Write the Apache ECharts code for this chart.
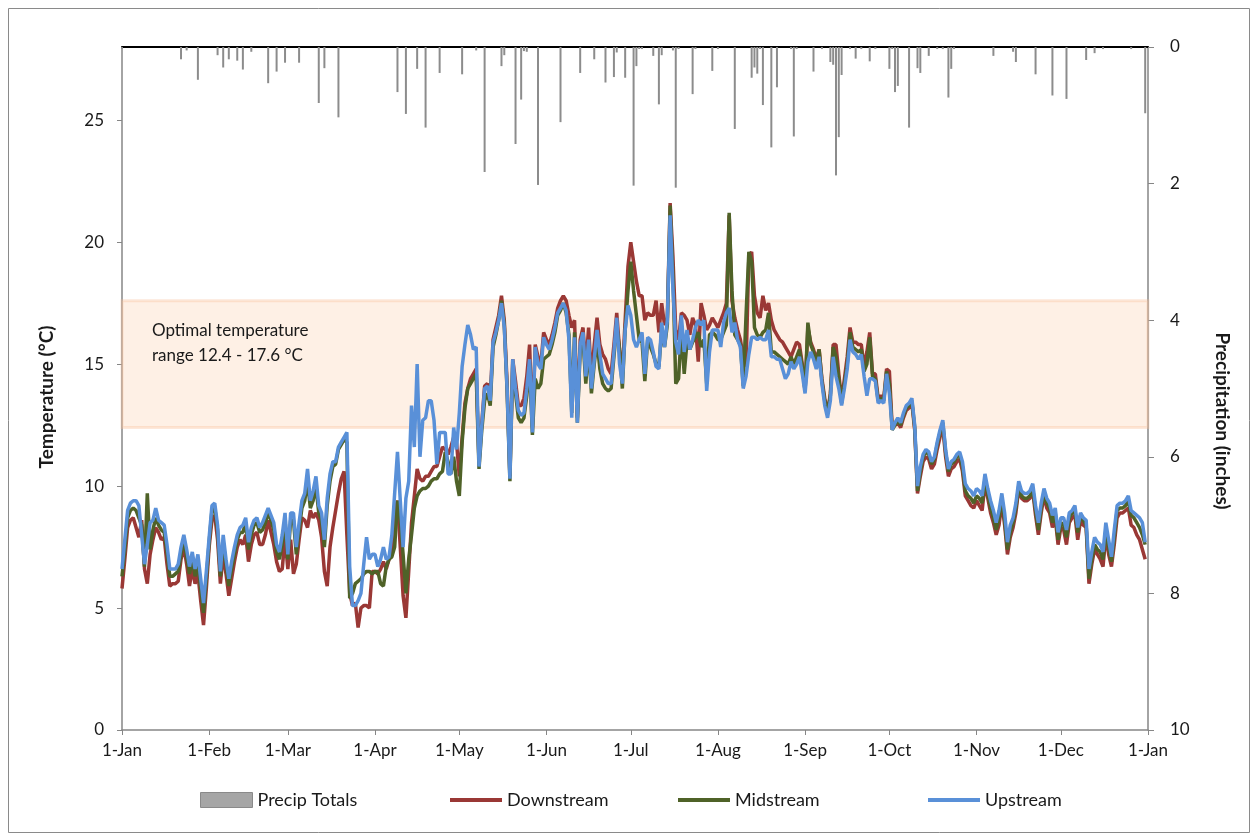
<!DOCTYPE html>
<html>
<head>
<meta charset="utf-8">
<title>Stream temperature and precipitation</title>
<script src="https://cdn.jsdelivr.net/npm/echarts@6.0.0/dist/echarts.min.js"></script>
<style>
    html, body { margin: 0; padding: 0; background: #fff; }
    #main { width: 1254px; height: 836px; }
</style>
</head>
<body>
<div id="main"></div>
<script>
// month start positions on the day axis and their labels
const monthStartDays = [0, 31, 59, 90, 120, 151, 181, 212, 243, 273, 304, 334, 365]
const monthLabels = ['1-Jan', '1-Feb', '1-Mar', '1-Apr', '1-May', '1-Jun', '1-Jul', '1-Aug', '1-Sep', '1-Oct', '1-Nov', '1-Dec', '1-Jan']

// daily mean temperature, deg C (one value per day)
const downstream = [
    5.8, 7.0, 8.3, 8.6, 8.7, 8.3, 7.9, 8.6, 6.6, 6.0,
    7.2, 7.8, 8.3, 8.1, 7.8, 7.9, 6.8, 5.9, 6.0, 6.0,
    6.1, 7.0, 7.5, 6.8, 5.9, 6.6, 6.0, 6.4, 5.3, 4.3,
    5.8, 7.5, 8.6, 8.8, 7.8, 6.0, 7.2, 6.4, 5.5, 6.2,
    6.9, 7.5, 7.8, 7.6, 8.0, 6.9, 7.6, 8.0, 8.1, 7.6,
    7.6, 8.0, 8.6, 8.1, 7.6, 6.9, 6.5, 6.6, 7.9, 6.6,
    7.8, 6.4, 6.8, 7.8, 8.7, 8.6, 8.3, 9.0, 8.7, 8.9,
    8.6, 7.9, 6.5, 5.9, 7.5, 8.3, 9.0, 9.7, 10.3, 10.6,
    8.0, 5.6, 5.1, 5.2, 4.2, 5.0, 5.1, 5.1, 5.0, 6.5,
    6.5, 6.4, 6.6, 6.9, 6.6, 7.0, 7.4, 9.0, 9.4, 7.5,
    5.5, 4.6, 6.5, 8.5, 9.6, 10.7, 10.3, 10.2, 10.4, 10.4,
    10.6, 10.8, 10.8, 11.2, 11.6, 11.5, 11.3, 11.6, 12.0, 11.8,
    10.4, 12.0, 13.4, 14.0, 14.4, 14.6, 14.8, 11.0, 12.6, 14.1,
    14.2, 13.6, 16.0, 16.5, 17.0, 17.8, 16.8, 14.2, 10.4, 15.2,
    14.3, 13.3, 13.3, 13.6, 14.5, 15.8, 12.4, 15.8, 15.3, 15.0,
    16.3, 16.0, 15.8, 16.2, 16.7, 17.3, 17.6, 17.8, 17.6, 17.0,
    16.5, 16.8, 12.8, 16.0, 16.5, 14.9, 16.5, 14.4, 15.8, 16.9,
    15.8, 15.4, 15.2, 14.8, 14.6, 15.8, 17.1, 15.6, 14.6, 16.8,
    19.0, 20.0, 19.2, 18.4, 17.8, 17.8, 16.8, 17.1, 17.0, 17.0,
    17.6, 16.3, 17.5, 16.6, 16.9, 21.6, 19.4, 16.4, 16.0, 17.1,
    17.0, 16.8, 16.2, 16.9, 16.6, 15.1, 17.5, 17.0, 16.4, 16.6,
    16.9, 16.7, 16.5, 16.8, 17.1, 17.5, 21.1, 17.6, 16.9, 16.4,
    16.0, 15.3, 14.9, 19.4, 19.6, 17.8, 17.1, 16.9, 17.8, 17.2,
    17.5, 16.8, 16.4, 16.2, 16.0, 15.9, 15.7, 15.5, 15.3, 15.6,
    15.9, 15.8, 15.0, 13.9, 16.5, 15.9, 15.6, 15.2, 15.6, 14.4,
    13.6, 13.0, 13.8, 15.8, 15.8, 14.6, 13.5, 14.4, 15.3, 16.5,
    15.9, 15.9, 15.8, 15.8, 14.9, 15.5, 16.3, 14.6, 14.6, 13.6,
    13.7, 13.6, 14.8, 14.7, 12.4, 12.5, 12.6, 12.4, 12.8, 13.1,
    13.2, 13.4, 12.3, 9.7, 10.4, 11.0, 11.2, 11.1, 10.7, 10.9,
    11.5, 12.0, 12.4, 11.2, 10.4, 10.7, 10.8, 11.0, 11.1, 10.6,
    9.6, 9.4, 9.2, 9.1, 9.4, 9.2, 9.0, 10.1, 9.5, 8.9,
    8.5, 8.0, 8.4, 9.3, 8.4, 7.2, 7.9, 8.3, 8.9, 9.9,
    9.5, 9.4, 9.4, 9.5, 9.8, 8.8, 8.0, 8.9, 9.6, 9.1,
    8.9, 8.3, 8.7, 7.6, 8.3, 8.2, 7.6, 8.5, 8.7, 8.8,
    7.8, 8.6, 8.4, 8.3, 6.0, 6.8, 7.4, 7.2, 7.0, 6.7,
    8.0, 7.2, 6.7, 7.6, 8.7, 8.9, 8.9, 9.0, 9.1, 8.4,
    8.3, 8.0, 7.8, 7.4, 7.0,
]

const midstream = [
    6.3, 7.4, 8.7, 9.0, 9.1, 9.0, 8.7, 8.4, 6.7, 9.7,
    7.4, 8.2, 8.7, 8.4, 8.2, 8.1, 7.3, 6.3, 6.3, 6.4,
    6.5, 7.2, 7.8, 7.1, 6.4, 7.0, 6.3, 6.9, 5.8, 4.8,
    6.2, 7.7, 9.0, 9.1, 8.2, 6.3, 7.7, 6.8, 5.9, 6.6,
    7.2, 7.8, 8.1, 8.1, 8.5, 7.4, 8.0, 8.4, 8.5, 8.1,
    8.2, 8.5, 8.9, 8.6, 8.2, 7.3, 7.0, 7.6, 8.6, 7.0,
    8.6, 8.6, 7.2, 8.2, 9.1, 9.4, 10.2, 9.1, 9.4, 10.0,
    8.9, 8.6, 7.5, 9.2, 10.2, 10.8, 10.9, 11.5, 11.7, 11.9,
    11.8, 5.4, 5.6, 6.0, 6.1, 6.2, 6.4, 6.5, 6.5, 6.4,
    6.5, 6.5, 6.0, 5.9, 6.7, 7.0, 7.1, 7.5, 9.4, 8.6,
    7.2, 5.6, 7.0, 8.0, 9.1, 9.6, 9.8, 9.9, 9.9, 10.0,
    10.2, 10.3, 10.3, 10.5, 10.6, 11.4, 11.0, 10.5, 11.2, 10.2,
    9.6, 11.8, 13.2, 14.0, 14.2, 14.4, 14.6, 10.7, 12.3, 13.5,
    13.8, 13.3, 15.7, 16.2, 16.8, 17.6, 16.6, 13.9, 10.2, 15.0,
    13.8, 12.8, 12.6, 12.8, 13.7, 15.0, 12.1, 14.4, 14.0, 14.2,
    15.2, 15.3, 15.4, 15.8, 16.3, 17.0, 17.2, 17.5, 17.1, 16.2,
    13.0, 16.3, 12.6, 15.6, 16.0, 14.2, 15.8, 13.8, 15.0, 16.0,
    14.8, 14.2, 14.0, 13.9, 14.0, 15.3, 16.6, 15.6, 14.0, 16.4,
    18.0, 19.2, 18.0, 17.0, 16.0, 15.9, 14.3, 16.0, 15.7, 15.4,
    15.0, 14.9, 16.4, 15.7, 16.6, 21.5, 18.6, 14.2, 14.4, 16.4,
    14.6, 15.9, 15.6, 15.9, 16.1, 16.3, 15.7, 16.0, 14.2, 16.2,
    16.3, 16.2, 16.0, 16.0, 16.3, 16.6, 21.2, 18.0, 16.2, 16.0,
    15.8, 14.1, 17.0, 19.6, 19.2, 16.5, 16.2, 16.1, 16.3, 16.4,
    17.1, 15.5, 15.5, 15.4, 15.3, 15.2, 15.1, 15.0, 15.3, 15.0,
    15.3, 15.6, 14.9, 13.9, 16.7, 15.8, 15.5, 15.0, 15.6, 14.3,
    13.5, 13.0, 13.7, 15.7, 15.3, 14.4, 13.4, 14.2, 15.0, 16.3,
    15.7, 15.6, 15.5, 15.6, 14.7, 15.0, 16.1, 14.5, 14.4, 13.5,
    13.6, 13.5, 14.7, 14.2, 12.3, 12.5, 12.7, 12.5, 12.9, 13.2,
    13.3, 13.5, 12.4, 9.8, 10.6, 11.2, 11.4, 11.3, 10.9, 11.1,
    11.7, 12.2, 12.6, 11.4, 10.6, 10.9, 11.0, 11.2, 11.3, 10.8,
    9.8, 9.6, 9.5, 9.3, 9.6, 9.5, 9.3, 10.3, 9.7, 9.1,
    8.7, 8.2, 8.7, 9.5, 8.6, 7.4, 8.1, 8.5, 9.1, 10.0,
    9.6, 9.5, 9.5, 9.6, 9.9, 9.0, 8.2, 9.1, 9.7, 9.3,
    9.1, 8.5, 8.9, 7.8, 8.5, 8.4, 7.9, 8.7, 8.9, 9.0,
    8.1, 8.8, 8.6, 8.4, 6.2, 7.0, 7.6, 7.4, 7.3, 7.0,
    8.2, 7.5, 6.9, 7.9, 9.0, 9.1, 9.1, 9.2, 9.4, 8.8,
    8.7, 8.5, 8.3, 8.0, 7.6,
]

const upstream = [
    6.6, 7.8, 9.0, 9.3, 9.4, 9.4, 9.2, 8.0, 6.8, 7.6,
    8.5, 8.6, 9.1, 8.6, 8.5, 8.4, 7.6, 6.6, 6.6, 6.6,
    6.8, 7.5, 8.0, 7.4, 6.7, 7.3, 6.6, 7.2, 6.2, 5.2,
    6.5, 7.9, 9.2, 9.3, 8.4, 6.5, 8.0, 7.0, 6.2, 6.9,
    7.5, 8.0, 8.3, 8.4, 8.7, 7.7, 8.3, 8.6, 8.7, 8.3,
    8.5, 8.8, 9.1, 8.8, 8.5, 7.6, 7.3, 8.0, 8.9, 7.2,
    8.9, 8.9, 7.5, 8.5, 9.4, 9.7, 10.7, 9.4, 9.8, 10.4,
    9.2, 8.9, 7.8, 9.5, 10.5, 11.0, 11.0, 11.6, 11.8, 12.0,
    12.2, 6.7, 5.1, 5.1, 5.3, 5.6, 6.8, 7.9, 7.0, 7.2,
    7.2, 6.7, 7.0, 7.5, 7.0, 7.1, 8.0, 9.7, 11.4, 9.4,
    7.5, 9.5, 10.2, 13.3, 11.6, 15.0, 11.2, 12.7, 12.8, 13.5,
    13.5, 12.7, 10.9, 12.2, 12.2, 12.2, 10.5, 10.5, 12.4, 11.5,
    13.0, 14.9, 15.8, 16.6, 16.2, 15.6, 15.7, 10.8, 12.5, 14.0,
    14.1, 13.5, 15.9, 16.3, 16.8, 17.5, 16.5, 14.0, 10.3, 15.2,
    14.0, 13.1, 12.9, 13.0, 14.0, 15.2, 12.2, 15.7, 15.0, 14.8,
    16.1, 15.8, 15.6, 16.0, 16.5, 17.1, 17.3, 17.5, 17.2, 16.0,
    12.8, 16.1, 12.6, 15.8, 16.3, 14.5, 16.0, 14.0, 15.2, 16.4,
    15.4, 14.6, 14.4, 14.2, 14.2, 15.5, 16.9, 15.0, 14.2, 16.4,
    17.4, 17.0, 16.0, 15.7, 16.0, 16.3, 14.6, 16.1, 16.0, 15.5,
    14.9, 14.8, 16.7, 15.7, 16.8, 21.1, 18.1, 15.9, 15.4, 17.0,
    15.5, 16.4, 15.6, 16.0, 16.5, 16.8, 16.6, 16.8, 13.9, 15.5,
    16.4, 16.4, 16.4, 15.7, 16.7, 17.1, 17.3, 16.3, 16.7, 16.0,
    15.7, 14.0, 14.5, 15.4, 16.1, 16.1, 16.0, 16.1, 16.0, 16.0,
    16.4, 15.3, 15.3, 15.2, 15.2, 14.8, 14.4, 14.6, 15.1, 14.8,
    15.0, 15.3, 14.6, 13.8, 15.1, 15.5, 15.2, 14.8, 15.3, 14.2,
    13.3, 12.8, 13.5, 15.3, 14.5, 14.0, 13.3, 14.0, 14.8, 16.0,
    15.5, 15.4, 15.2, 15.4, 14.5, 13.7, 14.4, 14.4, 14.3, 13.4,
    13.5, 13.4, 14.6, 13.8, 12.3, 12.6, 12.8, 12.6, 13.0, 13.3,
    13.4, 13.6, 12.5, 10.0, 10.8, 11.3, 11.5, 11.4, 11.0, 11.2,
    11.8, 12.3, 12.7, 11.5, 10.7, 11.0, 11.1, 11.3, 11.4, 11.0,
    10.1, 9.9, 9.8, 9.6, 9.9, 9.8, 9.6, 10.5, 9.9, 9.4,
    9.0, 8.5, 9.0, 9.7, 8.9, 7.7, 8.4, 8.7, 9.3, 10.2,
    9.8, 9.7, 9.7, 9.8, 10.1, 9.2, 8.5, 9.3, 9.9, 9.5,
    9.3, 8.8, 9.1, 8.1, 8.7, 8.7, 8.2, 8.9, 9.0, 9.2,
    8.3, 8.9, 8.7, 8.6, 6.6, 7.3, 7.9, 7.7, 7.6, 7.3,
    8.5, 7.8, 7.1, 8.2, 9.2, 9.3, 9.3, 9.4, 9.6, 9.0,
    8.9, 8.8, 8.7, 8.5, 7.7,
]

// daily precipitation totals (inches), only the days with rain
const precipDays = [
    0, 21, 23, 27, 34, 36, 38, 41, 43, 46,
    52, 55, 58, 63, 70, 72, 77, 98, 101, 105,
    108, 113, 121, 126, 129, 135, 136, 140, 142, 143,
    144, 148, 156, 163, 168, 172, 175, 176, 179, 182,
    183, 184, 185, 189, 191, 192, 196, 197, 198, 203,
    204, 210, 212, 218, 224, 225, 226, 227, 228, 231,
    233, 238, 239, 240, 246, 249, 252, 253, 254, 255,
    256, 259, 261, 263, 266, 268, 273, 274, 275, 276,
    280, 283, 284, 287, 290, 292, 294, 295, 296, 310,
    317, 318, 325, 331, 336, 343, 346, 349, 359, 364,
]
const precipTotals = [
    0.03, 0.18, 0.05, 0.48, 0.12, 0.30, 0.18, 0.20, 0.33, 0.07,
    0.53, 0.36, 0.23, 0.23, 0.82, 0.31, 1.03, 0.66, 0.98, 0.32,
    1.18, 0.38, 0.40, 0.05, 1.83, 0.28, 0.12, 1.42, 0.77, 0.06,
    0.07, 2.02, 1.10, 0.38, 0.18, 0.52, 0.44, 0.08, 0.45, 2.03,
    0.28, 0.03, 0.03, 0.13, 0.84, 0.12, 0.05, 2.06, 0.03, 0.69,
    0.03, 0.35, 0.03, 1.20, 0.45, 0.30, 0.39, 0.03, 0.85, 1.47,
    0.59, 0.03, 1.31, 0.03, 0.36, 0.03, 0.22, 0.26, 1.88, 1.32,
    0.41, 0.03, 0.17, 0.03, 0.21, 0.03, 0.32, 0.03, 0.66, 0.57,
    1.18, 0.31, 0.38, 0.13, 0.03, 0.03, 0.74, 0.32, 0.03, 0.13,
    0.07, 0.22, 0.40, 0.71, 0.76, 0.19, 0.09, 0.03, 0.03, 0.97,
]

// optimal temperature band
const optimalLow = 12.4
const optimalHigh = 17.6

const FONT = 'Lato'
const TEXT = '#1a1a1a'
const AXIS_GREY = '#868686'

function renderChart() {
    var chartDom = document.getElementById('main')
    var myChart = echarts.init(chartDom, null, { renderer: 'canvas' })

    // 366 slots: 1-Jan .. 31-Dec plus next 1-Jan at the right end
    let dayIndex = []
    for (let i = 0; i <= 365; i++) dayIndex.push(String(i))
    const isMonthStart = (idx) => monthStartDays.indexOf(idx) !== -1

    let precipData = precipDays.map((d, i) => [String(d), precipTotals[i]])

    const legendBase = {
        top: 791,
        padding: 0,
        itemWidth: 52,
        itemGap: 0,
        textStyle: { fontFamily: FONT, fontSize: 18, color: TEXT },
        selectedMode: false,
    }

    var option = {
        animation: false,
        backgroundColor: '#fff',
        grid: { left: 122, right: 106, top: 47, bottom: 106, containLabel: false },
        legend: [
            Object.assign({}, legendBase, {
                left: 200,
                itemHeight: 15,
                data: [{ name: 'Precip Totals', icon: 'rect', itemStyle: { color: '#a6a6a6', borderColor: '#8a8a8a', borderWidth: 1 } }],
            }),
            Object.assign({}, legendBase, {
                left: 450,
                itemHeight: 4,
                data: [{ name: 'Downstream', icon: 'rect' }],
            }),
            Object.assign({}, legendBase, {
                left: 678,
                itemHeight: 4,
                data: [{ name: 'Midstream', icon: 'rect' }],
            }),
            Object.assign({}, legendBase, {
                left: 928,
                itemHeight: 4,
                data: [{ name: 'Upstream', icon: 'rect' }],
            }),
        ],
        xAxis: [
            {
                type: 'category',
                data: dayIndex,
                boundaryGap: false,
                axisLine: { lineStyle: { color: AXIS_GREY, width: 1.5 } },
                axisTick: { show: true, interval: isMonthStart, length: 5, lineStyle: { color: AXIS_GREY } },
                axisLabel: {
                    interval: isMonthStart,
                    formatter: (val, idx) => monthLabels[monthStartDays.indexOf(Number(val))] || '',
                    fontFamily: FONT,
                    fontSize: 17,
                    color: TEXT,
                    margin: 12,
                },
                splitLine: { show: false },
            },
            {
                // black zero line of the hanging precipitation bars
                type: 'category',
                data: dayIndex,
                boundaryGap: false,
                position: 'top',
                axisLine: { lineStyle: { color: '#000', width: 2 } },
                axisTick: { show: false },
                axisLabel: { show: false },
                splitLine: { show: false },
            },
        ],
        yAxis: [
            {
                type: 'value',
                min: 0,
                max: 28,
                interval: 5,
                axisLine: { show: true, lineStyle: { color: AXIS_GREY, width: 1.5 } },
                axisTick: { show: true, length: 5, lineStyle: { color: AXIS_GREY } },
                axisLabel: { showMaxLabel: false, fontFamily: FONT, fontSize: 17, color: TEXT, margin: 18 },
                splitLine: { show: false },
            },
            {
                type: 'value',
                position: 'right',
                inverse: true,
                min: 0,
                max: 10,
                interval: 2,
                axisLine: { show: true, lineStyle: { color: AXIS_GREY, width: 1.5 } },
                axisTick: { show: true, length: 6, lineStyle: { color: AXIS_GREY } },
                axisLabel: { fontFamily: FONT, fontSize: 17, color: TEXT, margin: 22 },
                splitLine: { show: false },
            },
        ],
        series: [
            {
                name: 'Precip Totals',
                type: 'bar',
                xAxisIndex: 0,
                yAxisIndex: 1,
                barWidth: 2,
                itemStyle: { color: '#8c8c8c' },
                data: precipData,
                z: 1,
            },
            {
                name: 'Downstream',
                type: 'line',
                symbol: 'none',
                lineStyle: { width: 3.5, color: '#9a3835' },
                itemStyle: { color: '#9a3835' },
                data: downstream,
                z: 2,
            },
            {
                name: 'Midstream',
                type: 'line',
                symbol: 'none',
                lineStyle: { width: 3.5, color: '#4f6228' },
                itemStyle: { color: '#4f6228' },
                data: midstream,
                z: 3,
            },
            {
                name: 'Upstream',
                type: 'line',
                symbol: 'none',
                lineStyle: { width: 3.5, color: '#5990d8' },
                itemStyle: { color: '#5990d8' },
                data: upstream,
                z: 4,
            },
            {
                // translucent optimal band laid over the lines
                name: 'band',
                type: 'line',
                data: [],
                z: 10,
                silent: true,
                markArea: {
                    silent: true,
                    itemStyle: {
                        color: 'rgba(250, 200, 160, 0.28)',
                        borderColor: 'rgba(248, 190, 150, 0.35)',
                        borderWidth: 3,
                    },
                    data: [[{ yAxis: optimalLow }, { yAxis: optimalHigh }]],
                },
            },
        ],
        graphic: [
            {
                type: 'rect',
                silent: true,
                shape: { x: 8.5, y: 8.5, width: 1241, height: 824 },
                style: { fill: 'none', stroke: '#8a8a8a', lineWidth: 1 },
            },
            {
                type: 'text',
                left: 152,
                top: 318,
                z: 20,
                style: {
                    text: 'Optimal temperature\nrange 12.4 - 17.6 °C',
                    fontFamily: FONT,
                    fontSize: 17,
                    lineHeight: 25,
                    fill: TEXT,
                },
            },
            {
                type: 'text',
                x: 47,
                y: 397,
                rotation: Math.PI / 2,
                style: {
                    text: 'Temperature (°C)',
                    fontFamily: FONT,
                    fontSize: 19,
                    fontWeight: 'bold',
                    fill: TEXT,
                    align: 'center',
                    verticalAlign: 'middle',
                },
            },
            {
                type: 'text',
                x: 1222,
                y: 421,
                rotation: -Math.PI / 2,
                style: {
                    text: 'Precipitation (inches)',
                    fontFamily: FONT,
                    fontSize: 19,
                    fontWeight: 'bold',
                    fill: TEXT,
                    align: 'center',
                    verticalAlign: 'middle',
                },
            },
        ],
    }
    option && myChart.setOption(option)
}

renderChart()
</script>
</body>
</html>
